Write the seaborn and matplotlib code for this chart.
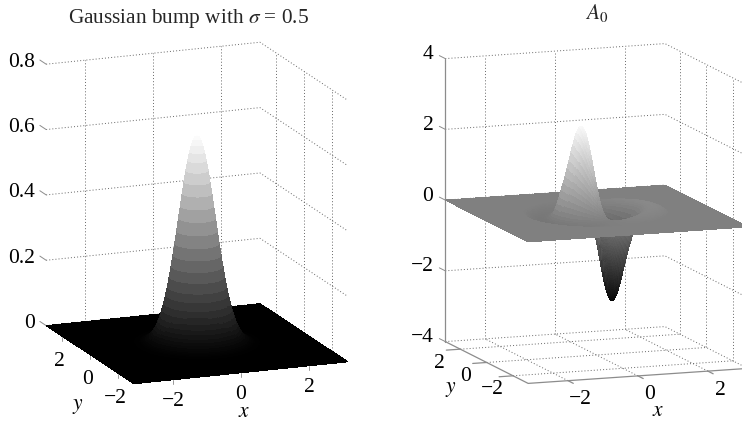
import numpy as np
import seaborn as sns
import matplotlib
matplotlib.use("Agg")
import matplotlib.pyplot as plt
from mpl_toolkits.mplot3d import proj3d

# height of the bump against radius, read every 0.05 from r=0 to r=2
bump_profile = [0.637, 0.634, 0.624, 0.609, 0.588, 0.562, 0.531, 0.497, 0.461, 0.423,
                0.386, 0.347, 0.309, 0.273, 0.239, 0.207, 0.176, 0.151, 0.126, 0.105,
                0.086, 0.070, 0.057, 0.045, 0.036, 0.028, 0.022, 0.017, 0.013, 0.010,
                0.007, 0.005, 0.004, 0.003, 0.002, 0.001, 0.001, 0.0, 0.0, 0.0, 0.0]
# lobe height of A0 against radius, same steps (up for x<0, down for x>0)
lobe_profile = [0.0, 0.45, 0.9, 1.3, 1.65, 1.95, 2.2, 2.38, 2.48, 2.5,
                2.45, 2.33, 2.17, 1.97, 1.75, 1.52, 1.3, 1.08, 0.88, 0.7,
                0.5, 0.32, 0.16, 0.03, -0.05, -0.10, -0.14, -0.16, -0.18, -0.19,
                -0.19, -0.18, -0.17, -0.16, -0.14, -0.12, -0.10, -0.07, -0.03, 0.0, 0.0]
profile_step = 0.05
xy_ticks = [-2, 0, 2]
bump_zticks = [0, 0.2, 0.4, 0.6, 0.8]
bump_zlabels = ["0", "0.2", "0.4", "0.6", "0.8"]
lobe_zticks = [-4, -2, 0, 2, 4]
lobe_zlabels = ["\u22124", "\u22122", "0", "2", "4"]
xy_labels = ["\u22122", "0", "2"]

LIM = 3.14
DOT = (0, (1, 2.2))
FIG_W, FIG_H = 742, 422
FONT = 15.5

sns.set_theme(style="white")
plt.rcParams["font.family"] = ["Liberation Serif", "DejaVu Serif"]
plt.rcParams["mathtext.fontset"] = "stix"
plt.rcParams["patch.force_edgecolor"] = False
gray_map = sns.color_palette("gray", as_cmap=True)

fig = plt.figure(figsize=(FIG_W / 100, FIG_H / 100), dpi=100)

# polar mesh: one ring per table entry, plus a last ring out on the square edge
theta = np.deg2rad(np.arange(0, 362.5, 2.5))
radii = np.arange(len(bump_profile)) * profile_step
edge_dist = LIM / np.maximum(np.abs(np.cos(theta)), np.abs(np.sin(theta)))
ring_x = np.outer(radii, np.cos(theta))
ring_y = np.outer(radii, np.sin(theta))
X = np.vstack([ring_x, edge_dist * np.cos(theta)])
Y = np.vstack([ring_y, edge_dist * np.sin(theta)])


def make_axes(cx, cy, side, elev, azim, box, zlim):
    left = (cx - 0.5135 * side) / FIG_W
    bottom = (FIG_H - cy - 0.5135 * side) / FIG_H
    ax = fig.add_axes([left, bottom, side / FIG_W, side / FIG_H], projection="3d", proj_type="ortho")
    ax.view_init(elev=elev, azim=azim)
    ax.set_box_aspect(box)
    ax.set_xlim(-LIM, LIM)
    ax.set_ylim(-LIM, LIM)
    ax.set_zlim(*zlim)
    ax.set_axis_off()
    ax.computed_zorder = False
    ax.patch.set_alpha(0)
    return ax


def label(ax, text, x, y, z, dx, dy, ha="center", size=FONT):
    px, py, _ = proj3d.proj_transform(x, y, z, ax.get_proj())
    ax.annotate(text, (px, py), xytext=(dx, dy), textcoords="offset pixels", ha=ha, va="center",
                fontsize=size, annotation_clip=False, color="black")


def draw_grid(ax, zticks, zlim, floor=False):
    dots = dict(color="0.4", lw=0.7, ls=DOT, zorder=1)
    for t in xy_ticks:
        ax.plot([t, t], [LIM, LIM], zlim, **dots)
        ax.plot([LIM, LIM], [t, t], zlim, **dots)
        if floor:
            ax.plot([t, t], [-LIM, LIM], [zlim[0]] * 2, **dots)
            ax.plot([-LIM, LIM], [t, t], [zlim[0]] * 2, **dots)
    for z in zticks:
        ax.plot([-LIM, LIM, LIM], [LIM, LIM, -LIM], [z, z, z], **dots)
        ax.plot([-LIM, -LIM], [LIM, LIM + 0.45], [z, z], color="0.55", lw=0.7, zorder=1)


def draw_surface(ax, Z, vmin, vmax):
    ax.plot_surface(X, Y, Z, rstride=1, cstride=1, cmap=gray_map, vmin=vmin, vmax=vmax,
                    shade=False, linewidth=0, edgecolor="none", antialiased=False, zorder=2)


# left panel: gaussian bump
ax1 = make_axes(197, 213, 416, 15.1, -111.5, (230, 240, 271), (0, 0.8))
draw_grid(ax1, bump_zticks, (0, 0.8))
bump_z = np.vstack([np.outer(bump_profile, np.ones_like(theta)), np.zeros_like(theta)])
draw_surface(ax1, bump_z, 0, 0.64)
for t, s in zip(xy_ticks, xy_labels):
    ax1.plot([t, t], [-LIM, -LIM], [0, -0.014], color="0.6", lw=0.7, zorder=1)
    ax1.plot([-LIM, -LIM], [t, t], [0, -0.014], color="0.6", lw=0.7, zorder=1)
    label(ax1, s, t, -LIM, 0, 0, -22)
    label(ax1, s, -LIM, t, 0, -3, -25)
for z, s in zip(bump_zticks, bump_zlabels):
    label(ax1, s, -LIM, LIM, z, -11, 2, ha="right")
label(ax1, r"$x$", 0, -LIM, 0, 3, -40)
label(ax1, r"$y$", -LIM, 0, 0, -12, -52)

# right panel: A0
ax2 = make_axes(596.5, 213.5, 429, 10.7, -110.2, (234, 240, 288), (-4, 4))
draw_grid(ax2, lobe_zticks, (-4, 4), floor=True)
edge = dict(color="0.55", lw=0.9, zorder=1)
ax2.plot([-LIM, -LIM], [LIM, LIM], [-4, 4], **edge)
ax2.plot([-LIM, -LIM, LIM], [LIM, -LIM, -LIM], [-4, -4, -4], **edge)
lobe_z = np.vstack([np.outer(lobe_profile, -np.cos(theta)), np.zeros_like(theta)])
draw_surface(ax2, lobe_z, -2.6, 2.6)
for t, s in zip(xy_ticks, xy_labels):
    ax2.plot([t, t], [-LIM, -LIM - 0.4], [-4, -4], **edge)
    ax2.plot([-LIM, -LIM - 0.4], [t, t], [-4, -4], **edge)
    label(ax2, s, t, -LIM, -4, 12, -19)
    label(ax2, s, -LIM, t, -4, -21, -14)
for z, s in zip(lobe_zticks, lobe_zlabels):
    label(ax2, s, -LIM, LIM, z, -12, 4, ha="right")
label(ax2, r"$x$", 0, -LIM, -4, 20, -36)
label(ax2, r"$y$", -LIM, 0, -4, -36, -27)

fig.text(189 / FIG_W, 1 - 18.5 / FIG_H, r"Gaussian bump with $\sigma$ = 0.5", ha="center", va="center", fontsize=15.3)
fig.text(597 / FIG_W, 1 - 13 / FIG_H, r"$A_0$", ha="center", va="center", fontsize=15.5)

fig.savefig("out.png", dpi=100)
